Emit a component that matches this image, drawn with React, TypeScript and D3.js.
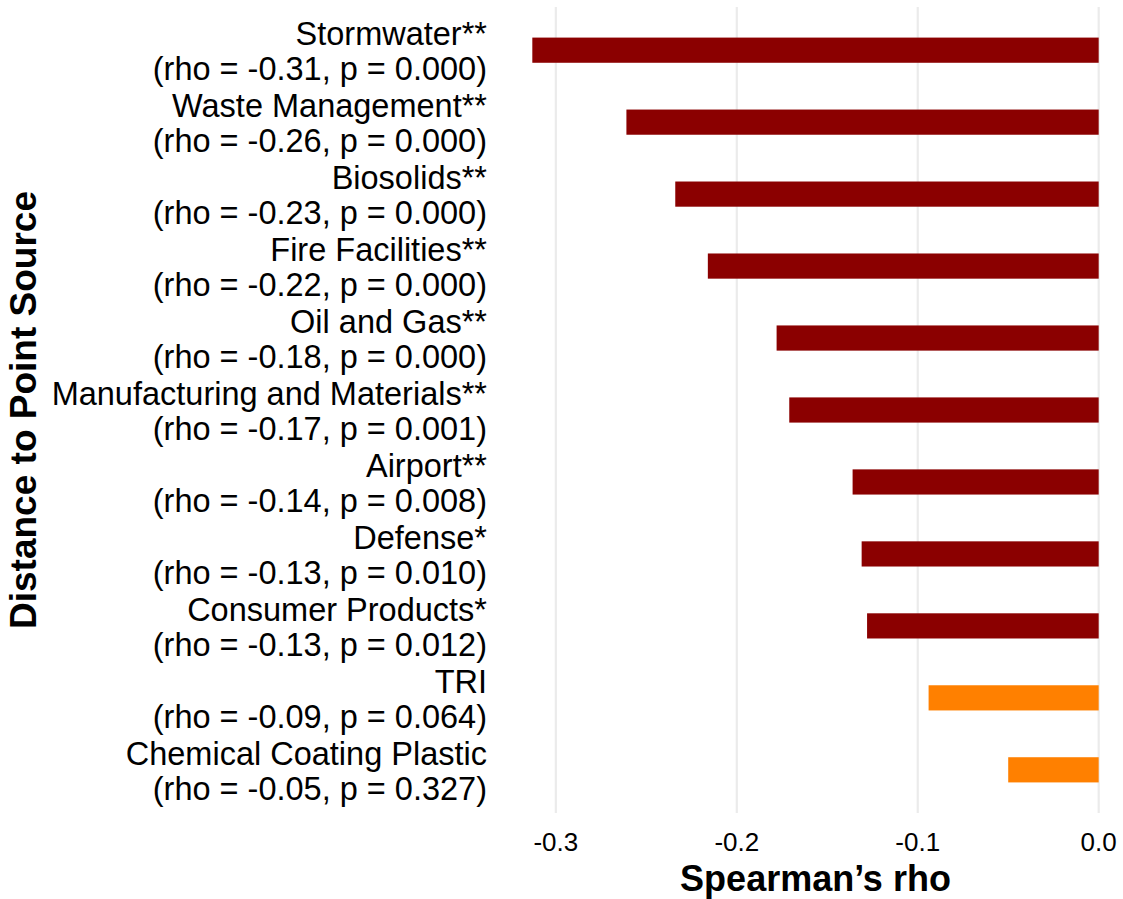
import React from "react";
import * as d3 from "d3";

// Point-source categories, Spearman correlations and p-values
const sources: string[] = [
  "Stormwater",
  "Waste Management",
  "Biosolids",
  "Fire Facilities",
  "Oil and Gas",
  "Manufacturing and Materials",
  "Airport",
  "Defense",
  "Consumer Products",
  "TRI",
  "Chemical Coating Plastic",
];
const rhoValues: number[] = [
  -0.313, -0.261, -0.234, -0.216, -0.178, -0.171, -0.136, -0.131, -0.128, -0.094, -0.05,
];
const pValues: number[] = [0.0, 0.0, 0.0, 0.0, 0.0, 0.001, 0.008, 0.01, 0.012, 0.064, 0.327];
const xTicks: number[] = [-0.3, -0.2, -0.1, 0.0];

const WIDTH = 1123;
const HEIGHT = 899;
const FONT = "'Liberation Sans', Arial, Helvetica, sans-serif";

const stars = (p: number) => (p < 0.01 ? "**" : p < 0.05 ? "*" : "");

export default function App() {
  const plotLeft = 504;
  const plotRight = 1127;
  const plotTop = 7;
  const plotBottom = 813;

  // ggplot-style 5% expansion on the continuous axis
  const lo = d3.min(rhoValues) as number;
  const hi = 0;
  const pad = (hi - lo) * 0.05;
  const x = d3.scaleLinear().domain([lo - pad, hi + pad]).range([plotLeft, plotRight]);

  const y = d3
    .scalePoint<string>()
    .domain(sources)
    .range([plotTop, plotBottom])
    .padding(0.6);
  const barH = y.step() * 0.35;

  const rows = sources.map((s, i) => ({
    name: s,
    rho: rhoValues[i],
    p: pValues[i],
  }));

  return (
    <svg
      width={WIDTH}
      height={HEIGHT}
      style={{ position: "absolute", left: 0, top: 0, background: "#ffffff" }}
    >
      {/* vertical grid */}
      {xTicks.map((t) => (
        <line
          key={"g" + t}
          x1={x(t)}
          x2={x(t)}
          y1={plotTop}
          y2={plotBottom}
          stroke="#EBEBEB"
          strokeWidth={2.2}
        />
      ))}

      {/* bars */}
      {rows.map((r) => {
        const x0 = x(Math.min(r.rho, 0));
        const x1 = x(Math.max(r.rho, 0));
        return (
          <rect
            key={r.name}
            x={x0}
            y={(y(r.name) as number) - barH / 2}
            width={x1 - x0}
            height={barH}
            fill={r.p < 0.05 ? "#8B0000" : "#FF8000"}
          />
        );
      })}

      {/* category labels */}
      {rows.map((r) => {
        const cy = y(r.name) as number;
        return (
          <text
            key={"l" + r.name}
            textAnchor="end"
            fontFamily={FONT}
            fontSize={32.5}
            fill="#000"
          >
            <tspan x={487} y={cy - 5}>
              {r.name + stars(r.p)}
            </tspan>
            <tspan x={487} y={cy + 30}>
              {`(rho = ${r.rho.toFixed(2)}, p = ${r.p.toFixed(3)})`}
            </tspan>
          </text>
        );
      })}

      {/* x tick labels */}
      {xTicks.map((t) => (
        <text
          key={"t" + t}
          x={x(t)}
          y={851}
          textAnchor="middle"
          fontFamily={FONT}
          fontSize={26}
          fill="#000"
        >
          {t.toFixed(1)}
        </text>
      ))}

      {/* axis titles */}
      <text
        x={(plotLeft + plotRight) / 2}
        y={891}
        textAnchor="middle"
        fontFamily={FONT}
        fontWeight="bold"
        fontSize={36}
        fill="#000"
      >
        Spearman’s rho
      </text>
      <text
        transform={`translate(36, ${(plotTop + plotBottom) / 2}) rotate(-90)`}
        textAnchor="middle"
        fontFamily={FONT}
        fontWeight="bold"
        fontSize={37}
        fill="#000"
      >
        Distance to Point Source
      </text>
    </svg>
  );
}
